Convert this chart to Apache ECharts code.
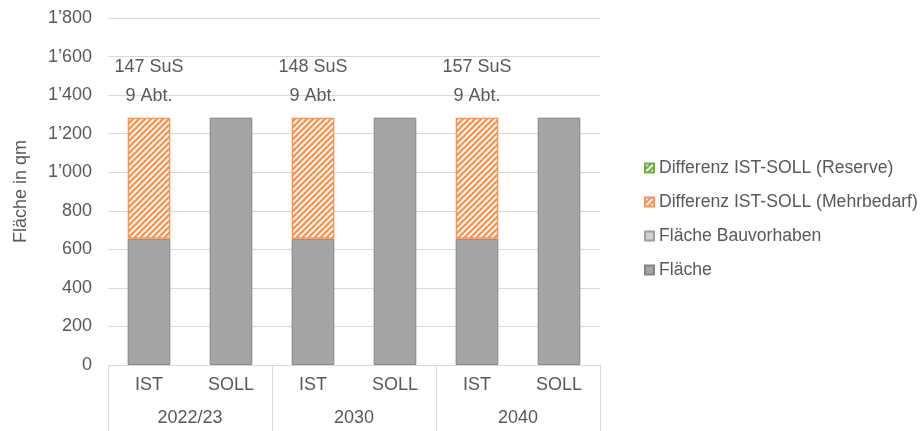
<!DOCTYPE html>
<html>
<head>
<meta charset="utf-8">
<script src="https://cdn.jsdelivr.net/npm/echarts@6/dist/echarts.min.js"></script>
<style>
  html, body { margin: 0; padding: 0; background: #ffffff; }
  #chart { width: 922px; height: 431px; }
</style>
</head>
<body>
<div id="chart"></div>
<script>
// Area per school, IST vs SOLL for three reference years
const years = ['2022/23', '2030', '2040'];
const kinds = ['IST', 'SOLL'];
const categories = ['IST', 'SOLL', 'IST', 'SOLL', 'IST', 'SOLL'];
const flaeche = [655, 1283, 655, 1283, 655, 1283];
const flaecheBauvorhaben = [0, 0, 0, 0, 0, 0];
const mehrbedarf = [628, 0, 628, 0, 628, 0];
const reserve = [0, 0, 0, 0, 0, 0];
const schueler = [147, 148, 157];
const abteilungen = [9, 9, 9];
const yTicks = [0, 200, 400, 600, 800, 1000, 1200, 1400, 1600, 1800];

const TEXT = '#595959';
const GRID = '#d9d9d9';
const FONT = '"Liberation Sans", Arial, sans-serif';
const FS = 18;

// Diagonal hatch tile used for the difference bars
function hatch(color) {
  const c = document.createElement('canvas');
  c.width = 6; c.height = 6;
  const g = c.getContext('2d');
  g.fillStyle = '#ffffff';
  g.fillRect(0, 0, 6, 6);
  g.strokeStyle = color;
  g.lineWidth = 2.3;
  g.beginPath();
  g.moveTo(-1, 7); g.lineTo(7, -1);
  g.moveTo(-4, 4); g.lineTo(4, -4);
  g.moveTo(2, 10); g.lineTo(10, 2);
  g.stroke();
  return { image: c, repeat: 'repeat' };
}

// Zero-height segments get no outline so they stay invisible
function items(values) {
  return values.map(function (v) {
    return v === 0 ? { value: v, itemStyle: { borderWidth: 0 } } : v;
  });
}

function fmt(v) {
  return String(v).replace(/\B(?=(\d{3})+(?!\d))/g, '\u2019');
}

const chart = echarts.init(document.getElementById('chart'), null, { renderer: 'canvas' });

chart.setOption({
  animation: false,
  backgroundColor: '#ffffff',
  textStyle: { fontFamily: FONT, color: TEXT, fontSize: FS },
  grid: { left: 108, right: 322, top: 18, bottom: 66, containLabel: false },
  legend: {
    orient: 'vertical',
    left: 639,
    top: 154,
    itemWidth: 9,
    itemHeight: 9,
    itemGap: 16,
    icon: 'rect',
    textStyle: { color: TEXT, fontSize: 17.6, fontFamily: FONT },
    data: ['Differenz IST-SOLL (Reserve)', 'Differenz IST-SOLL (Mehrbedarf)', 'Fläche Bauvorhaben', 'Fläche']
  },
  xAxis: [
    {
      type: 'category',
      data: categories,
      position: 'bottom',
      axisLine: { show: true, lineStyle: { color: GRID, width: 1 } },
      axisTick: { show: false },
      axisLabel: { color: TEXT, fontSize: FS, fontFamily: FONT, margin: 11, interval: 0 }
    },
    {
      type: 'category',
      data: years,
      position: 'bottom',
      axisLine: { show: false },
      axisTick: { show: true, length: 66, interval: 0, lineStyle: { color: GRID, width: 1 } },
      axisLabel: { color: TEXT, fontSize: FS, fontFamily: FONT, margin: 44, interval: 0 }
    }
  ],
  yAxis: {
    type: 'value',
    min: yTicks[0],
    max: yTicks[yTicks.length - 1],
    interval: yTicks[1] - yTicks[0],
    name: 'Fläche in qm',
    nameLocation: 'middle',
    nameGap: 78,
    nameRotate: 90,
    nameTextStyle: { color: TEXT, fontSize: FS, fontFamily: FONT },
    axisLine: { show: false },
    axisTick: { show: false },
    axisLabel: { color: TEXT, fontSize: FS, fontFamily: FONT, margin: 16, formatter: fmt },
    splitLine: { lineStyle: { color: GRID, width: 1 } }
  },
  series: [
    {
      name: 'Fläche',
      type: 'bar',
      stack: 'a',
      barWidth: '52%',
      data: items(flaeche),
      itemStyle: { color: '#a5a5a5', borderColor: '#858585', borderWidth: 1 }
    },
    {
      name: 'Fläche Bauvorhaben',
      type: 'bar',
      stack: 'a',
      data: items(flaecheBauvorhaben),
      itemStyle: { color: '#d0d0d0', borderColor: '#a0a0a0', borderWidth: 1 }
    },
    {
      name: 'Differenz IST-SOLL (Mehrbedarf)',
      type: 'bar',
      stack: 'a',
      data: items(mehrbedarf),
      itemStyle: { color: hatch('#f0975a'), borderColor: '#f0975a', borderWidth: 1.5 },
      label: {
        show: true,
        position: 'top',
        distance: 7,
        color: TEXT,
        fontSize: FS,
        fontFamily: FONT,
        lineHeight: 29,
        align: 'center',
        formatter: function (p) {
          if (categories[p.dataIndex] !== kinds[0]) return '';
          const g = Math.floor(p.dataIndex / kinds.length);
          return schueler[g] + ' SuS\n' + abteilungen[g] + ' Abt.';
        }
      }
    },
    {
      name: 'Differenz IST-SOLL (Reserve)',
      type: 'bar',
      stack: 'a',
      data: items(reserve),
      itemStyle: { color: hatch('#70ad47'), borderColor: '#70ad47', borderWidth: 1.5 }
    }
  ]
});
</script>
</body>
</html>
